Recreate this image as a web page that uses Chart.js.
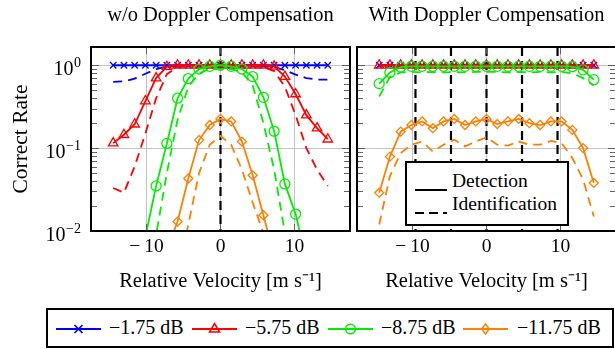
<!DOCTYPE html>
<html><head><meta charset="utf-8">
<script src="https://cdn.jsdelivr.net/npm/chart.js@4/dist/chart.umd.min.js"></script>
<style>
html,body{margin:0;padding:0;background:#fff;}
#wrap{position:relative;width:615px;height:349px;overflow:hidden;background:#fff;font-family:"Liberation Serif",serif;color:#000;}
canvas{position:absolute;left:0;top:0;}
.ttl{position:absolute;top:2px;width:320px;text-align:center;font-size:20.5px;line-height:24px;white-space:nowrap;}
.lg{position:absolute;border:2px solid #000;background:#fff;box-sizing:border-box;}
.lt{position:absolute;font-size:20px;line-height:24px;white-space:nowrap;}
.ls{position:absolute;}
</style></head>
<body>
<div id="wrap">
<canvas id="cA" width="615" height="349"></canvas>
<canvas id="cB" width="640" height="349"></canvas>
<div class="ttl" id="tA"></div>
<div class="ttl" id="tB"></div>
<div class="lg" id="inner"></div>
<div class="lg" id="bottom"></div>
</div>
<script>
// ---------- data ----------
const panelTitles = ['w/o Doppler Compensation', 'With Doppler Compensation'];
const yAxisTitle = 'Correct Rate';
const xAxisTitle = 'Relative Velocity [m s\u207B\u00B9]';
const snrLabels = ['\u22121.75 dB', '\u22125.75 dB', '\u22128.75 dB', '\u221211.75 dB'];
const typeLabels = ['Detection', 'Identification'];
const xTickValues = [-10, 0, 10];
const yTickExponents = [-2, -1, 0];
const velocity = [-14.5,-13.05,-11.6,-10.15,-8.7,-7.25,-5.8,-4.35,-2.9,-1.45,0,1.45,2.9,4.35,5.8,7.25,8.7,10.15,11.6,13.05,14.5];

// w/o Doppler compensation
const woDet_1_75  = [1,1,1,1,1,1,1,1,1,1,1,1,1,1,1,1,1,1,1,1,1];
const woId_1_75   = [0.63,0.64,0.69,0.79,0.9,0.96,0.99,1,1,1,1,1,1,1,0.99,0.95,0.87,0.77,0.7,0.67,0.67];
const woDet_5_75  = [0.115,0.145,0.194,0.37,0.7,0.96,1,1,1,1,1,1,1,1,1,0.97,0.73,0.45,0.25,0.174,0.128];
const woId_5_75   = [0.033,0.029,0.06,0.15,0.4,0.78,0.95,0.99,1,1,1,1,1,0.99,0.95,0.85,0.55,0.25,0.1,0.055,0.035];
const woDet_8_75  = [0.0005,0.001,0.002,0.0085,0.035,0.114,0.4,0.69,0.9,0.97,1,0.97,0.9,0.73,0.41,0.16,0.037,0.016,0.0045,0.001,0.0005];
const woId_8_75   = [0.0003,0.0006,0.001,0.003,0.009,0.05,0.22,0.55,0.8,0.9,0.9,0.9,0.82,0.57,0.2,0.055,0.0095,0.003,0.001,0.0005,0.0003];
const woDet_11_75 = [0.0002,0.0003,0.0005,0.001,0.002,0.006,0.013,0.043,0.125,0.19,0.225,0.21,0.12,0.047,0.0155,0.005,0.002,0.001,0.0005,0.0003,0.0002];
const woId_11_75  = [0.0001,0.0002,0.0003,0.0005,0.001,0.0015,0.003,0.012,0.05,0.11,0.14,0.11,0.055,0.022,0.0095,0.003,0.001,0.0005,0.0003,0.0002,0.0001];

// with Doppler compensation
const wDet_1_75  = [1,1,1,1,1,1,1,1,1,1,1,1,1,1,1,1,1,1,1,1,1];
const wId_1_75   = [1,1,1,1,1,1,1,1,1,1,1,1,1,1,1,1,1,1,1,1,1];
const wDet_5_75  = [1,1,1,1,1,1,1,1,1,1,1,1,1,1,1,1,1,1,1,1,1];
const wId_5_75   = [0.99,0.99,0.99,0.99,0.99,0.99,0.99,0.99,0.99,0.99,0.99,0.99,0.99,0.99,0.99,0.99,0.99,0.99,0.99,0.99,0.99];
const wDet_8_75  = [0.6,0.82,0.95,0.97,0.97,0.97,0.97,0.97,0.97,0.97,0.97,0.97,0.97,0.97,0.97,0.97,0.97,0.97,0.96,0.88,0.67];
const wId_8_75   = [0.42,0.72,0.82,0.83,0.82,0.83,0.82,0.83,0.82,0.83,0.83,0.83,0.82,0.83,0.82,0.83,0.82,0.83,0.8,0.7,0.57];
const wDet_11_75 = [0.029,0.079,0.158,0.19,0.21,0.174,0.21,0.225,0.19,0.21,0.225,0.195,0.21,0.225,0.2,0.19,0.21,0.21,0.166,0.1,0.038];
const wId_11_75  = [0.012,0.046,0.087,0.11,0.12,0.091,0.11,0.126,0.105,0.12,0.135,0.11,0.107,0.12,0.11,0.11,0.122,0.115,0.076,0.042,0.015];

const markerVelocitiesA = [0];
const markerVelocitiesB = [-9.6, -4.8, 0, 4.8, 9.6];

// ---------- styles ----------
const colors = ['#0000ff', '#ff0000', '#00ee00', '#ff8000'];
const pointStyles = ['crossRot', 'triangle', 'circle', 'rectRot'];
const pointRadii = [4.5, 5.5, 5, 4.5];
const FONT = '"Liberation Serif", serif';

function pts(ys) { return velocity.map((v, i) => ({x: v, y: ys[i]})); }

function buildDatasets(det, id) {
  const ds = [];
  for (let i = 0; i < 4; i++) {
    ds.push({
      data: pts(det[i]), borderColor: colors[i], borderWidth: 1.8,
      pointStyle: pointStyles[i], pointRadius: pointRadii[i], pointBorderWidth: 1.3,
      pointBorderColor: colors[i], pointBackgroundColor: 'rgba(0,0,0,0)',
      fill: false, tension: 0, clip: 0, order: 20 - 2 * i
    });
    ds.push({
      data: pts(id[i]), borderColor: colors[i], borderWidth: 1.8, borderDash: [9, 6],
      pointRadius: 0, fill: false, tension: 0, clip: 0, order: 21 - 2 * i
    });
  }
  return ds;
}

const framePlugin = {
  id: 'frame',
  beforeDatasetsDraw(chart, args, opts) {
    const {ctx, chartArea: a, scales: {x}} = chart;
    ctx.save();
    ctx.beginPath(); ctx.rect(a.left, a.top, a.right - a.left, a.bottom - a.top); ctx.clip();
    ctx.strokeStyle = '#000'; ctx.lineWidth = 2.2; ctx.setLineDash([9, 5]);
    for (const v of opts.markers) {
      const px = x.getPixelForValue(v);
      ctx.beginPath(); ctx.moveTo(px, a.top); ctx.lineTo(px, a.bottom); ctx.stroke();
    }
    ctx.restore();
  },
  afterDatasetsDraw(chart, args, opts) {
    const {ctx, chartArea: a, scales: {x, y}} = chart;
    ctx.save();
    ctx.strokeStyle = '#555'; ctx.lineWidth = 0.9;
    const line = (x1, y1, x2, y2) => { ctx.beginPath(); ctx.moveTo(x1, y1); ctx.lineTo(x2, y2); ctx.stroke(); };
    for (const e of yTickExponents) {
      for (let m = 1; m <= 9; m++) {
        const v = m * Math.pow(10, e);
        if (v > y.max) continue;
        const py = Math.round(y.getPixelForValue(v)) + 0.5;
        const len = m === 1 ? 8 : 6;
        line(a.left, py, a.left + len, py);
        line(a.right, py, a.right - len, py);
      }
    }
    for (const v of xTickValues) {
      const px = x.getPixelForValue(v);
      line(px, a.bottom, px, a.bottom - 7);
      line(px, a.top, px, a.top + 7);
    }
    ctx.strokeStyle = '#000'; ctx.lineWidth = 2;
    ctx.strokeRect(a.left, a.top, a.right - a.left, a.bottom - a.top);
    if (opts.yLabels) {
      ctx.fillStyle = '#000';
      ctx.textBaseline = 'alphabetic';
      for (const e of yTickExponents) {
        const py = y.getPixelForValue(Math.pow(10, e));
        const sup = e === 0 ? '0' : '\u2212' + (-e);
        ctx.font = '14px ' + FONT;
        const ws = ctx.measureText(sup).width;
        ctx.font = '20px ' + FONT;
        const wm = ctx.measureText('10').width;
        const right = a.left - 10;
        ctx.fillText('10', right - ws - wm - 0.5, py + 9.5);
        ctx.font = '14px ' + FONT;
        ctx.fillText(sup, right - ws, py + 1.5);
      }
    }
    ctx.restore();
  }
};

const AREA_TOP = 47, AREA_BOTTOM = 231;
function makeChart(canvasId, det, id, leftEdge, rightPad, markers, showY) {
  const H = 349;
  return new Chart(document.getElementById(canvasId), {
    type: 'line',
    data: {datasets: buildDatasets(det, id)},
    plugins: [framePlugin],
    options: {
      responsive: false, animation: false, events: [],
      layout: {padding: {left: 0, top: AREA_TOP, right: rightPad, bottom: 0}},
      plugins: {legend: {display: false}, tooltip: {enabled: false},
        frame: {markers: markers, yLabels: showY}},
      scales: {
        x: {
          type: 'linear', min: -17.5, max: 17.5,
          afterBuildTicks: s => { s.ticks = xTickValues.map(v => ({value: v})); },
          afterFit: s => { s.height = H - AREA_BOTTOM; },
          border: {display: false},
          grid: {color: '#c4c4c4', lineWidth: 1, drawTicks: false},
          ticks: {color: '#000', font: {family: FONT, size: 19.5}, padding: 4, maxRotation: 0,
            callback: v => (v < 0 ? '\u2212\u2009' + (-v) : String(v))},
          title: {display: true, text: xAxisTitle, color: '#000', font: {family: FONT, size: 20.5},
            padding: {top: 0, bottom: 55}}
        },
        y: {
          type: 'logarithmic', min: 0.01, max: 1.66,
          afterBuildTicks: s => { s.ticks = yTickExponents.map(e => ({value: Math.pow(10, e)})); },
          afterFit: s => { s.width = leftEdge; },
          border: {display: false},
          grid: {color: '#c4c4c4', lineWidth: 1, drawTicks: false},
          ticks: {display: false},
          title: {display: showY, text: yAxisTitle, color: '#000', font: {family: FONT, size: 21.5},
            padding: {top: 8, bottom: 0}}
        }
      }
    }
  });
}

makeChart('cA',
  [woDet_1_75, woDet_5_75, woDet_8_75, woDet_11_75],
  [woId_1_75, woId_5_75, woId_8_75, woId_11_75], 91, 615 - 350, markerVelocitiesA, true);
makeChart('cB',
  [wDet_1_75, wDet_5_75, wDet_8_75, wDet_11_75],
  [wId_1_75, wId_5_75, wId_8_75, wId_11_75], 357, 640 - 616, markerVelocitiesB, false);

// ---------- titles ----------
const tA = document.getElementById('tA');
tA.textContent = panelTitles[0]; tA.style.left = (220.5 - 160) + 'px';
const tB = document.getElementById('tB');
tB.textContent = panelTitles[1]; tB.style.left = (486.5 - 160) + 'px';

// ---------- legends ----------
function markerSvg(i, w) {
  const c = colors[i], cx = w / 2, cy = 10;
  let m = '';
  if (i === 0) m = `<path d="M${cx-4} ${cy-4}L${cx+4} ${cy+4}M${cx-4} ${cy+4}L${cx+4} ${cy-4}" stroke="${c}" stroke-width="1.7" fill="none"/>`;
  if (i === 1) m = `<path d="M${cx} ${cy-5.5}L${cx+5} ${cy+3}L${cx-5} ${cy+3}Z" stroke="${c}" stroke-width="1.5" fill="none"/>`;
  if (i === 2) m = `<circle cx="${cx}" cy="${cy}" r="4.8" stroke="${c}" stroke-width="1.5" fill="none"/>`;
  if (i === 3) m = `<path d="M${cx} ${cy-5}L${cx+3.8} ${cy}L${cx} ${cy+5}L${cx-3.8} ${cy}Z" stroke="${c}" stroke-width="1.4" fill="none"/>`;
  return `<svg width="${w}" height="20" viewBox="0 0 ${w} 20"><path d="M0 ${cy}L${w} ${cy}" stroke="${c}" stroke-width="1.8"/>${m}</svg>`;
}
const bottom = document.getElementById('bottom');
bottom.style.left = '46px'; bottom.style.top = '308px'; bottom.style.width = '568px'; bottom.style.height = '40px';
const symX = [56, 192, 328, 463], txtX = [109, 245, 381, 517];
let html = '';
for (let i = 0; i < 4; i++) {
  html += `<div class="ls" style="left:${symX[i]-48}px;top:${329-10-310}px">${markerSvg(i, 45)}</div>`;
  html += `<div class="lt" style="left:${txtX[i]-48}px;top:${315-310}px">${snrLabels[i]}</div>`;
}
bottom.innerHTML = html;

const inner = document.getElementById('inner');
inner.style.left = '405px'; inner.style.top = '161px'; inner.style.width = '164px'; inner.style.height = '65px';
const lineSvg = dash => `<svg width="32" height="6"><path d="M0 3L32 3" stroke="#000" stroke-width="2" ${dash ? 'stroke-dasharray="9 5"' : ''}/></svg>`;
inner.innerHTML =
  `<div class="ls" style="left:${415-407}px;top:${182-3-163}px">${lineSvg(false)}</div>` +
  `<div class="lt" style="left:${452-407}px;top:${169-163}px;font-size:19.5px">${typeLabels[0]}</div>` +
  `<div class="ls" style="left:${415-407}px;top:${205-3-163}px">${lineSvg(true)}</div>` +
  `<div class="lt" style="left:${452-407}px;top:${192-163}px;font-size:19.5px">${typeLabels[1]}</div>`;
</script>
</body></html>
